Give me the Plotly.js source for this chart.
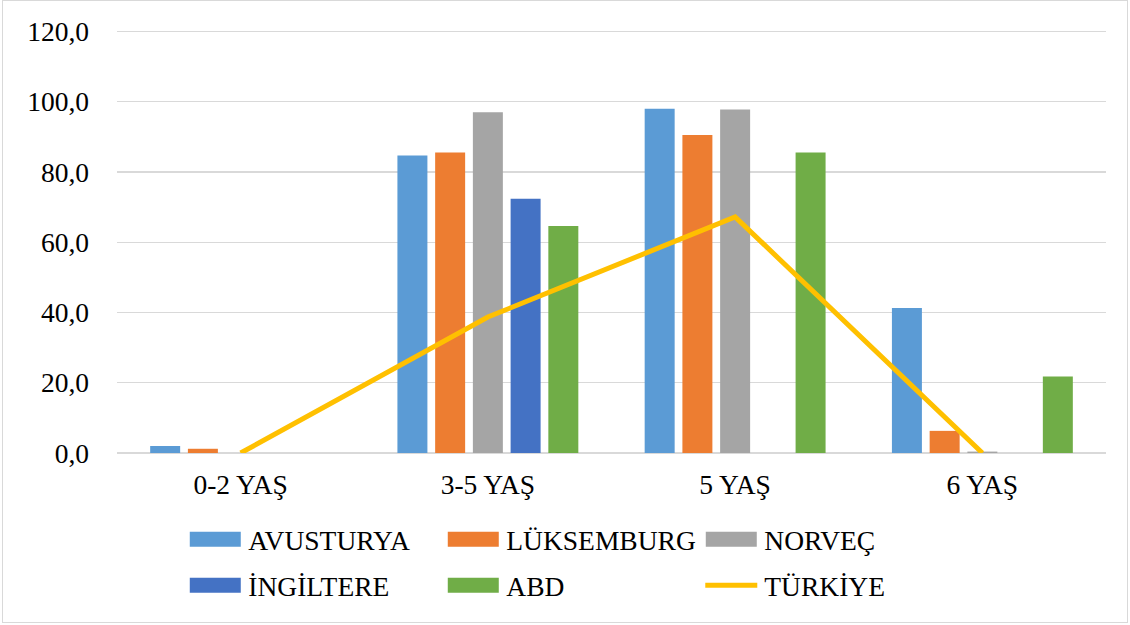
<!DOCTYPE html>
<html>
<head>
<meta charset="utf-8">
<script src="https://cdn.plot.ly/plotly-3.0.1.min.js"></script>
<style>
  html, body { margin: 0; padding: 0; background: #ffffff; }
  #chart { width: 1130px; height: 625px; }
  #frame { position: absolute; left: 2px; top: 0px; width: 1124px; height: 621px; border: 1px solid #d9d9d9; pointer-events: none; }
</style>
</head>
<body>
<div id="chart"></div>
<div id="frame"></div>
<script>
var categories = ['0-2 YAŞ', '3-5 YAŞ', '5 YAŞ', '6 YAŞ'];
var avusturya = [2.0, 84.7, 98.0, 41.3];
var luksemburg = [1.2, 85.5, 90.5, 6.3];
var norvec = [null, 97.0, 97.8, 0.4];
var ingiltere = [null, 72.4, null, null];
var abd = [null, 64.6, 85.5, 21.8];
var turkiye = [0.0, 38.7, 67.2, 0.0];
var yTicks = [0, 20, 40, 60, 80, 100, 120];

var FONT = 'Liberation Serif';
var FS = 27.5;

function barTrace(name, vals, color, legend) {
  return { type: 'bar', name: name, x: categories, y: vals,
    marker: { color: color }, legend: legend, hoverinfo: 'skip' };
}

var traces = [
  barTrace('AVUSTURYA', avusturya, '#5B9BD5', 'legend'),
  barTrace('LÜKSEMBURG', luksemburg, '#ED7D31', 'legend'),
  barTrace('NORVEÇ', norvec, '#A5A5A5', 'legend'),
  barTrace('İNGİLTERE', ingiltere, '#4472C4', 'legend2'),
  barTrace('ABD', abd, '#70AD47', 'legend2'),
  { type: 'scatter', mode: 'lines', name: 'TÜRKİYE', x: categories, y: turkiye,
    line: { color: '#FFC000', width: 5 }, legend: 'legend2', hoverinfo: 'skip' }
];

var legendBase = {
  orientation: 'h', xanchor: 'left', yanchor: 'middle',
  font: { family: FONT, size: FS, color: '#000000' },
  itemwidth: 56, entrywidth: 187, entrywidthmode: 'pixels',
  bgcolor: 'rgba(0,0,0,0)', borderwidth: 0, traceorder: 'normal',
  itemclick: false, itemdoubleclick: false
};

var layout = {
  width: 1130, height: 625,
  margin: { l: 117, r: 24, t: 30, b: 172, pad: 0 },
  paper_bgcolor: '#ffffff', plot_bgcolor: '#ffffff',
  font: { family: FONT, size: FS, color: '#000000' },
  separators: ', ',
  barmode: 'group', bargap: 0.237, bargroupgap: 0.205,
  xaxis: {
    type: 'category', categoryorder: 'array', categoryarray: categories,
    showgrid: false, showline: false, ticks: '', zeroline: false,
    tickfont: { family: FONT, size: FS, color: '#000000' },
    ticklabelstandoff: 12
  },
  yaxis: {
    range: [0, 120.4], tickvals: yTicks, tickformat: '.1f',
    showgrid: true, gridcolor: '#d9d9d9', gridwidth: 1.3,
    zeroline: true, zerolinecolor: '#d9d9d9', zerolinewidth: 1.3,
    showline: false, ticks: '',
    tickfont: { family: FONT, size: FS, color: '#000000' },
    ticklabelstandoff: 27
  },
  legend: Object.assign({}, legendBase, { x: 0.066, y: -0.204 }),
  legend2: Object.assign({}, legendBase, { x: 0.066, y: -0.313 }),
  showlegend: true
};

function fixLegend() {
  document.querySelectorAll('.legendpoints path').forEach(function (p) {
    p.setAttribute('d', 'M25.5,7.5H-25.5V-7.5H25.5Z');
  });
  document.querySelectorAll('.legendlines path').forEach(function (p) {
    p.setAttribute('d', 'M7,0h52');
  });
}

var gd = document.getElementById('chart');
Plotly.newPlot(gd, traces, layout, { staticPlot: true, displayModeBar: false }).then(function () {
  fixLegend();
  gd.on && gd.on('plotly_afterplot', fixLegend);
  setTimeout(fixLegend, 50);
  setTimeout(fixLegend, 300);
});
</script>
</body>
</html>
